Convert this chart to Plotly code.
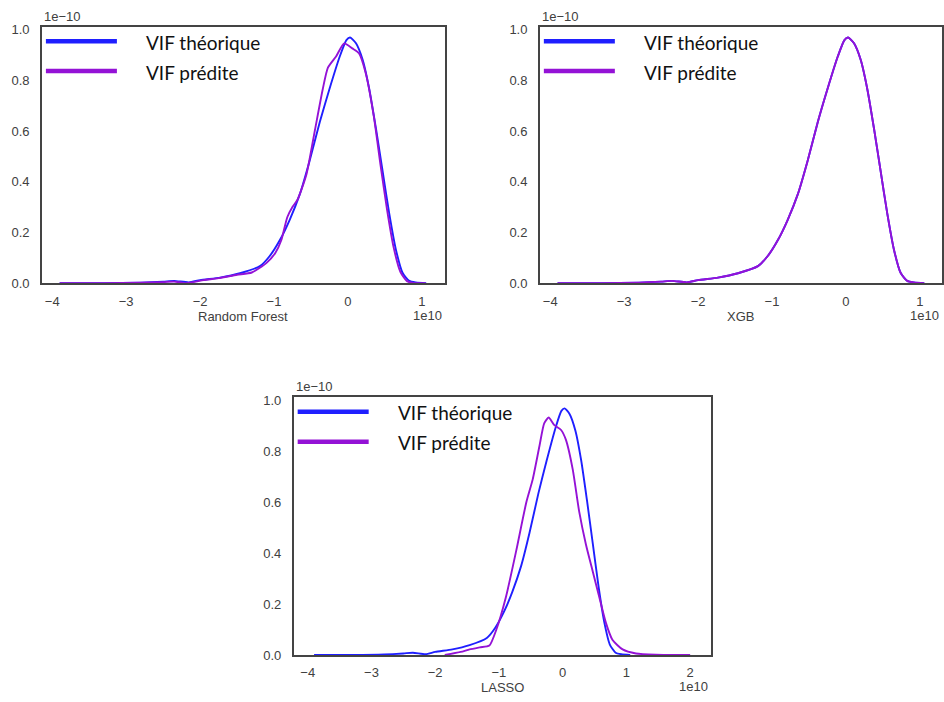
import plotly.graph_objects as go

# ---- data (x in units of 1e10, density in units of 1e-10) ----
theo_x = [-3.9, -3.3, -2.8, -2.5, -2.35, -2.15, -2.0, -1.73, -1.46, -1.19, -1.06, -0.92, -0.79,
          -0.65, -0.52, -0.38, -0.25, -0.11, -0.02, 0.03, 0.11, 0.2, 0.29, 0.38, 0.47, 0.56,
          0.65, 0.74, 0.83, 0.92, 1.06]
theo_y = [0.0, 0.0, 0.002, 0.006, 0.009, 0.003, 0.012, 0.022, 0.039, 0.067, 0.106, 0.17, 0.248,
          0.351, 0.48, 0.636, 0.765, 0.894, 0.959, 0.969, 0.946, 0.881, 0.765, 0.61, 0.442, 0.274,
          0.132, 0.041, 0.009, 0.003, 0.0]

rf_pred_x = [-3.9, -3.3, -2.8, -2.5, -2.35, -2.2, -1.95, -1.75, -1.5, -1.3, -1.1, -0.98, -0.9,
             -0.82, -0.75, -0.68, -0.56, -0.45, -0.34, -0.27, -0.16, -0.05, 0.06, 0.15, 0.24,
             0.35, 0.44, 0.53, 0.62, 0.71, 0.8, 0.9, 1.05]
rf_pred_y = [0.0, 0.0, 0.002, 0.004, 0.006, 0.0, 0.012, 0.02, 0.033, 0.042, 0.08, 0.12, 0.17,
             0.26, 0.3, 0.33, 0.43, 0.597, 0.765, 0.85, 0.894, 0.946, 0.926, 0.907, 0.83,
             0.66, 0.47, 0.29, 0.14, 0.045, 0.008, 0.0, 0.0]

xgb_pred_x = [-3.9, -3.3, -2.8, -2.5, -2.35, -2.15, -2.0, -1.73, -1.46, -1.19, -1.06, -0.92, -0.79,
              -0.65, -0.52, -0.38, -0.25, -0.11, -0.02, 0.03, 0.11, 0.2, 0.29, 0.38, 0.47, 0.56,
              0.65, 0.74, 0.83, 0.92, 1.06]
xgb_pred_y = [0.0, 0.0, 0.002, 0.006, 0.009, 0.003, 0.012, 0.022, 0.039, 0.067, 0.106, 0.17, 0.248,
              0.351, 0.48, 0.636, 0.765, 0.894, 0.959, 0.969, 0.946, 0.881, 0.765, 0.61, 0.442, 0.274,
              0.132, 0.041, 0.009, 0.003, 0.0]

lasso_pred_x = [-1.85, -1.6, -1.46, -1.3, -1.15, -1.04, -0.89, -0.73, -0.57, -0.47, -0.365, -0.29,
                -0.22, -0.13, -0.025, 0.05, 0.157, 0.26, 0.365, 0.47, 0.574, 0.68, 0.78, 0.94,
                1.15, 1.46, 1.8, 2.0]
lasso_pred_y = [0.0, 0.012, 0.022, 0.03, 0.037, 0.1, 0.228, 0.408, 0.6, 0.69, 0.82, 0.91,
                0.933, 0.903, 0.884, 0.846, 0.73, 0.562, 0.434, 0.33, 0.228, 0.125, 0.06, 0.022,
                0.006, 0.001, 0.0, 0.0]

model_names = ["Random Forest", "XGB", "LASSO"]
series_names = ["VIF théorique", "VIF prédite"]
top_xticks = [-4, -3, -2, -1, 0, 1]
bottom_xticks = [-4, -3, -2, -1, 0, 1, 2]
yticks = [0.0, 0.2, 0.4, 0.6, 0.8, 1.0]

BLUE = "#1f1fff"
PURPLE = "#9412d6"
FRAME = "#444444"
TICKC = "#404040"
TICKFONT = dict(family="Liberation Sans, Arial", size=13, color=TICKC)

panels = [
    dict(theo=(theo_x, theo_y), pred=(rf_pred_x, rf_pred_y), name=model_names[0],
         xdom=[42/944, 446/944], ydom=[1-284/702, 1-23/702], xr=[-4.14, 1.315], ticks=top_xticks,
         yr=[0, 1.012]),
    dict(theo=(theo_x, theo_y), pred=(xgb_pred_x, xgb_pred_y), name=model_names[1],
         xdom=[541/944, 1.0], ydom=[1-284/702, 1-23/702], xr=[-4.14, 1.30], ticks=top_xticks,
         yr=[0, 1.012]),
    dict(theo=(theo_x, theo_y), pred=(lasso_pred_x, lasso_pred_y), name=model_names[2],
         xdom=[294.3/944, 712.7/944], ydom=[1-662.3/702, 1-400/702], xr=[-4.22, 2.33],
         ticks=bottom_xticks, yr=[0, 1.013]),
]

fig = go.Figure()
layout = dict(width=944, height=702, margin=dict(l=0, r=0, t=0, b=0),
              paper_bgcolor="white", plot_bgcolor="white", showlegend=False)
shapes = []
annotations = []

for i, p in enumerate(panels, start=1):
    sfx = "" if i == 1 else str(i)
    xa, ya = "x" + sfx, "y" + sfx
    fig.add_trace(go.Scatter(x=p["theo"][0], y=p["theo"][1], mode="lines", name=series_names[0],
                             line=dict(color=BLUE, width=1.9, shape="spline", smoothing=0.6),
                             xaxis=xa, yaxis=ya))
    fig.add_trace(go.Scatter(x=p["pred"][0], y=p["pred"][1], mode="lines", name=series_names[1],
                             line=dict(color=PURPLE, width=1.9, shape="spline", smoothing=0.6),
                             xaxis=xa, yaxis=ya))
    layout["xaxis" + sfx] = dict(domain=p["xdom"], anchor=ya, range=p["xr"], tickvals=p["ticks"],
                                 ticktext=[("−" + str(-t)) if t < 0 else str(t) for t in p["ticks"]],
                                 showgrid=False, zeroline=False, showline=True, mirror=True,
                                 linecolor=FRAME, linewidth=1.6, ticks="outside", ticklen=5,
                                 tickcolor="rgba(0,0,0,0)", tickfont=TICKFONT)
    layout["yaxis" + sfx] = dict(domain=p["ydom"], anchor=xa, range=p["yr"], tickvals=yticks,
                                 tickformat=".1f", showgrid=False, zeroline=False, showline=True,
                                 mirror=True, linecolor=FRAME, linewidth=1.6, ticks="outside",
                                 ticklen=8, tickcolor="rgba(0,0,0,0)", tickfont=TICKFONT)
    xd, yd = xa + " domain", ya + " domain"
    # legend lines and labels
    for k, (col, off) in enumerate([(BLUE, -14.7), (PURPLE, -44.5)]):
        shapes.append(dict(type="line", xref=xd, yref=yd, xsizemode="pixel", ysizemode="pixel",
                           xanchor=0, yanchor=1, x0=4, x1=75, y0=off, y1=off,
                           line=dict(color=col, width=4.5)))
        annotations.append(dict(text=series_names[k], xref=xd, yref=yd, x=0, y=1, xanchor="left",
                                yanchor="middle", xshift=102, yshift=off - 1, showarrow=False,
                                font=dict(family="Lato, Carlito, sans-serif", size=19, color="#111111")))
    # offset texts and axis title
    annotations.append(dict(text="1e−10", xref=xd, yref=yd, x=0, y=1, xanchor="left",
                            yanchor="bottom", xshift=0, yshift=1, showarrow=False, font=TICKFONT))
    annotations.append(dict(text="1e10", xref=xd, yref=yd, x=1, y=0, xanchor="right",
                            yanchor="middle", xshift=-1, yshift=-32, showarrow=False, font=TICKFONT))
    annotations.append(dict(text=p["name"], xref=xd, yref=yd, x=0.5, y=0, xanchor="center",
                            yanchor="middle", yshift=-33, showarrow=False, font=TICKFONT))

layout["shapes"] = shapes
layout["annotations"] = annotations
fig.update_layout(**layout)
fig.write_html("out.html", config={"displayModeBar": False},
               post_script="document.body.style.margin='0px';document.body.style.overflow='hidden';")
